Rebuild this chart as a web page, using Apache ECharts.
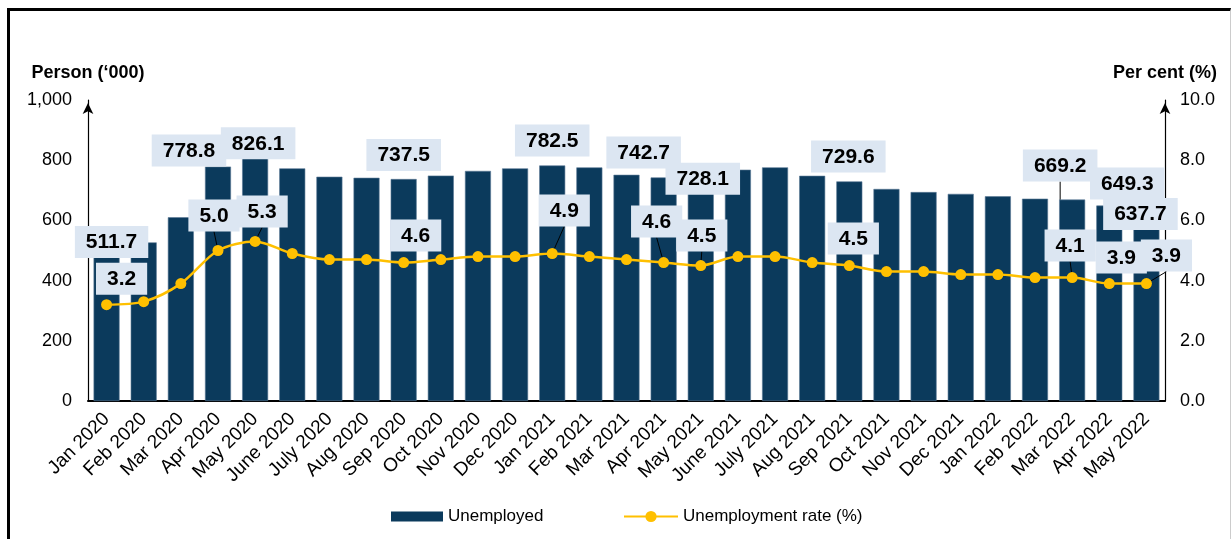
<!DOCTYPE html>
<html>
<head>
<meta charset="utf-8">
<script src="https://cdn.jsdelivr.net/npm/echarts@6/dist/echarts.min.js"></script>
<style>
  html, body { margin: 0; padding: 0; background: #fff; }
  #frame { position: absolute; left: 7px; top: 8px; width: 1220px; height: 540px;
           border-top: 3px solid #000; border-left: 3px solid #000; border-right: 1px solid #ccc; }
  #main { position: absolute; left: 0; top: 0; width: 1231px; height: 539px; }
</style>
</head>
<body>
<div id="frame"></div>
<div id="main"></div>
<script>
const months = ['Jan 2020','Feb 2020','Mar 2020','Apr 2020','May 2020','June 2020','July 2020','Aug 2020',
  'Sep 2020','Oct 2020','Nov 2020','Dec 2020','Jan 2021','Feb 2021','Mar 2021','Apr 2021','May 2021',
  'June 2021','July 2021','Aug 2021','Sep 2021','Oct 2021','Nov 2021','Dec 2021','Jan 2022','Feb 2022',
  'Mar 2022','Apr 2022','May 2022']
const unemployed = [511.7, 527.0, 610.5, 778.8, 826.1, 772.9, 745.1, 741.6, 737.5, 748.9, 764.4, 772.9,
  782.5, 776.1, 751.5, 742.7, 728.1, 768.4, 776.3, 748.2, 729.6, 704.4, 694.2, 688.1, 680.1, 672.1,
  669.2, 649.3, 637.7]
const rate = [3.2, 3.3, 3.9, 5.0, 5.3, 4.9, 4.7, 4.7, 4.6, 4.7, 4.8, 4.8, 4.9, 4.8, 4.7, 4.6, 4.5,
  4.8, 4.8, 4.6, 4.5, 4.3, 4.3, 4.2, 4.2, 4.1, 4.1, 3.9, 3.9]
const leftTicks = [0, 200, 400, 600, 800, 1000]
const rightTicks = [0, 2, 4, 6, 8, 10]

// which points get a callout, and which callouts get a pointer line
const labelled = [0, 3, 4, 8, 12, 15, 16, 20, 26, 27, 28]
const barPointers = [26]
const ratePointers = [3, 4, 12, 15, 16, 26, 28]

// callout centre relative to bar top / marker centre (px)
const barOffsets = {0:[5,-5], 3:[-29,-16], 4:[3,-9], 8:[0,-24], 12:[0,-25], 15:[-20,-25],
  16:[2,-3], 20:[-1,-25], 26:[-12,-34], 27:[18,-22], 28:[-6,5]}
const rateOffsets = {0:[15,-26], 3:[-4,-35], 4:[7,-30], 8:[12,-27], 12:[12,-43], 15:[-7,-41],
  16:[1,-30], 20:[4,-27], 26:[-2,-32], 27:[12,-26], 28:[20,-28]}

const NAVY = '#0b3a5c'
const GOLD = '#ffc000'
const BOX = '#dce6f2'
const FONT = 'Arial, "Liberation Sans", sans-serif'

function layoutFor(offsets, fromTop) {
  return function (params) {
    const off = offsets[params.dataIndex]
    if (!off) return {}
    const r = params.rect, lr = params.labelRect
    const ax = r.x + r.width / 2
    const ay = fromTop ? r.y : r.y + r.height / 2
    return {
      dx: ax + off[0] - (lr.x + lr.width / 2),
      dy: ay + off[1] - (lr.y + lr.height / 2)
    }
  }
}

const calloutLabel = {
  position: 'top',
  distance: 0,
  color: '#000',
  fontFamily: FONT,
  fontWeight: 'bold',
  fontSize: 21,
  backgroundColor: BOX,
  padding: [6, 11, 5, 11],
  formatter: p => Number(p.value).toFixed(1)
}

const barData = unemployed.map((v, i) => ({
  value: v,
  label: { show: labelled.includes(i) },
  labelLine: { show: barPointers.includes(i) }
}))
const rateData = rate.map((v, i) => ({
  value: v,
  label: { show: labelled.includes(i) },
  labelLine: { show: ratePointers.includes(i) }
}))

const axisLine = {
  show: true,
  symbol: ['none', 'arrow'],
  symbolSize: [8, 11],
  symbolOffset: [0, -3],
  lineStyle: { color: '#000', width: 1.2 }
}

const legendText = { fontSize: 17, color: '#000', fontFamily: FONT }

const option = {
  animation: false,
  textStyle: { fontFamily: FONT },
  grid: { left: 88, right: 66, top: 100, bottom: 138 },
  legend: [
    {
      left: 391, top: 508, padding: 0,
      itemWidth: 52, itemHeight: 10,
      textStyle: legendText,
      data: [{ name: 'Unemployed', icon: 'rect', itemStyle: { borderWidth: 0 } }]
    },
    {
      left: 623, top: 508, padding: 0,
      itemWidth: 54, itemHeight: 14,
      textStyle: legendText,
      data: [{ name: 'Unemployment rate (%)' }]
    }
  ],
  xAxis: {
    type: 'category',
    data: months,
    axisLine: { lineStyle: { color: '#000', width: 2 } },
    axisTick: { show: false },
    axisLabel: { rotate: 45, fontSize: 19, color: '#000', margin: 15, interval: 0, fontFamily: FONT }
  },
  yAxis: [
    {
      type: 'value', min: 0, max: 1000, interval: 200,
      name: 'Person (‘000)', nameLocation: 'end', nameGap: 18,
      nameTextStyle: { fontSize: 18, fontWeight: 'bold', color: '#000', fontFamily: FONT },
      axisLine: axisLine,
      splitLine: { show: false },
      axisLabel: { fontSize: 18, color: '#000', margin: 16, fontFamily: FONT,
        formatter: v => leftTicks.includes(v) ? v.toLocaleString('en-US') : '' }
    },
    {
      type: 'value', min: 0, max: 10, interval: 2,
      name: 'Per cent (%)', nameLocation: 'end', nameGap: 18,
      nameTextStyle: { fontSize: 18, fontWeight: 'bold', color: '#000', fontFamily: FONT },
      axisLine: axisLine,
      splitLine: { show: false },
      axisLabel: { fontSize: 18, color: '#000', margin: 15, fontFamily: FONT,
        formatter: v => rightTicks.includes(v) ? v.toFixed(1) : '' }
    }
  ],
  series: [
    {
      name: 'Unemployed',
      type: 'bar',
      barWidth: '70%',
      data: barData,
      itemStyle: { color: NAVY, borderColor: '#5a7896', borderWidth: 0.6 },
      label: calloutLabel,
      labelLine: { lineStyle: { color: '#000', width: 1 } },
      labelLayout: layoutFor(barOffsets, true),
      z: 2
    },
    {
      name: 'Unemployment rate (%)',
      type: 'line',
      yAxisIndex: 1,
      data: rateData,
      smooth: 0.3,
      symbol: 'circle',
      symbolSize: 11,
      lineStyle: { color: GOLD, width: 2.5 },
      itemStyle: { color: GOLD },
      label: calloutLabel,
      labelLine: { lineStyle: { color: '#000', width: 1 } },
      labelLayout: layoutFor(rateOffsets, false),
      z: 3
    }
  ]
}

const mychart = echarts.init(document.getElementById('main'))
mychart.setOption(option)
</script>
</body>
</html>
